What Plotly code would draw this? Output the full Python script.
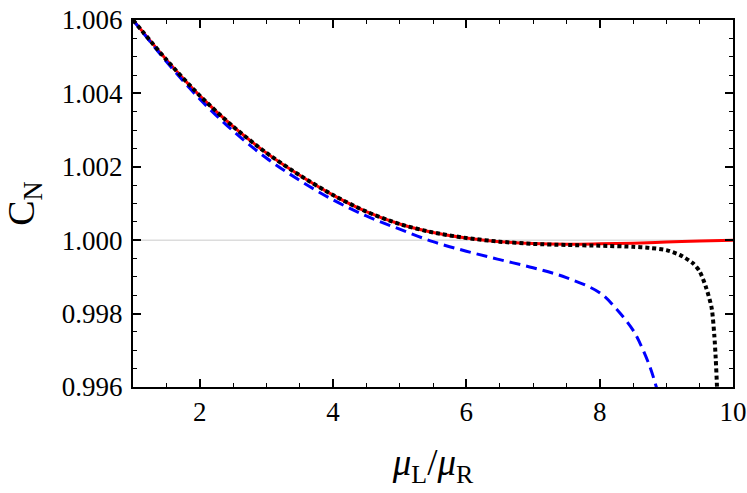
import plotly.graph_objects as go

# ── Data ──────────────────────────────────────────────────────────────────────

x_red = [1.0, 1.5, 2.0, 2.5, 3.0, 3.5, 4.0, 4.5, 5.0, 5.5, 6.0, 6.5, 7.0,
         7.5, 8.0, 8.5, 9.0, 9.5, 10.0]
y_red = [1.00600, 1.00492, 1.00394, 1.00310, 1.00238, 1.00177, 1.00123,
         1.00078, 1.00044, 1.00021, 1.00006, 0.99996, 0.99991, 0.99989,
         0.99990, 0.99992, 0.99995, 0.99998, 1.00000]

x_black = [1.0, 1.5, 2.0, 2.5, 3.0, 3.5, 4.0, 4.5, 5.0, 5.5, 6.0, 6.5, 7.0,
           7.5, 8.0, 8.5, 8.75, 9.0, 9.2, 9.4, 9.5, 9.6, 9.68, 9.72, 9.74,
           9.76, 9.78]
y_black = [1.00600, 1.00492, 1.00394, 1.00310, 1.00238, 1.00177, 1.00123,
           1.00078, 1.00044, 1.00021, 1.00006, 0.99996, 0.99990, 0.99987,
           0.99985, 0.99982, 0.99979, 0.99973, 0.99960, 0.99937, 0.99915,
           0.99869, 0.99815, 0.99740, 0.99680, 0.99600, 0.99500]

x_blue = [1.0, 1.5, 2.0, 2.5, 3.0, 3.5, 4.0, 4.5, 5.0, 5.5, 6.0, 6.5, 7.0,
          7.5, 8.0, 8.25, 8.5, 8.6, 8.75, 8.85, 8.95]
y_blue = [1.00600, 1.00487, 1.00385, 1.00298, 1.00224, 1.00163, 1.00110,
          1.00066, 1.00030, 0.99996, 0.99970, 0.99947, 0.99925, 0.99898,
          0.99857, 0.99813, 0.99755, 0.99721, 0.99657, 0.99600, 0.99535]

y_ticks = [0.996, 0.998, 1.000, 1.002, 1.004, 1.006]
x_ticks = [2, 4, 6, 8, 10]

FONT = "Liberation Serif"

fig = go.Figure()

fig.add_hline(y=1.0, line_color="#dcdcdc", line_width=1.5, layer="below")

fig.add_trace(go.Scatter(
    x=x_red, y=y_red, mode="lines",
    line=dict(color="#ff0000", width=3, shape="spline", smoothing=1.0),
))
fig.add_trace(go.Scatter(
    x=x_blue, y=y_blue, mode="lines",
    line=dict(color="#0000ff", width=3, dash="11px,6px",
              shape="spline", smoothing=1.0),
))
fig.add_trace(go.Scatter(
    x=x_black, y=y_black, mode="lines",
    line=dict(color="#000000", width=4, dash="4px,3px",
              shape="spline", smoothing=0.7),
))

axis_common = dict(
    showgrid=False, zeroline=False, automargin=False,
    showline=True, linecolor="black", linewidth=2,
    mirror="ticks", ticks="inside", ticklen=8, tickwidth=1.5,
    tickcolor="black", ticklabeloverflow="allow",
    tickfont=dict(family=FONT, size=27, color="black"),
)

fig.update_xaxes(
    **axis_common,
    range=[1, 10], tickvals=x_ticks,
    minor=dict(dtick=0.5, tick0=0, ticks="inside", ticklen=4,
               tickwidth=1.2, tickcolor="black"),
    title=dict(text="<i>μ</i><sub>L</sub>/<i>μ</i><sub>R</sub>",
               font=dict(family=FONT, size=37, color="black"), standoff=23),
)
fig.update_yaxes(
    **axis_common,
    range=[0.996, 1.006], tickvals=y_ticks, tickformat=".3f",
    ticklabelstandoff=3,
    minor=dict(dtick=0.0005, tick0=0.996, ticks="inside", ticklen=4,
               tickwidth=1.2, tickcolor="black"),
    title=dict(text="C<sub>N</sub>",
               font=dict(family=FONT, size=38, color="black"), standoff=38),
)

fig.update_layout(
    width=747, height=493,
    margin=dict(l=133, r=14, t=20, b=106),
    font=dict(family=FONT, color="black"),
    plot_bgcolor="white", paper_bgcolor="white",
    showlegend=False,
)

# drop the default body margin so the figure sits flush in the window
fig.write_html(
    "out.html",
    config={"displayModeBar": False},
    post_script="document.body.style.margin='0';"
                "document.body.style.overflow='hidden';",
)
